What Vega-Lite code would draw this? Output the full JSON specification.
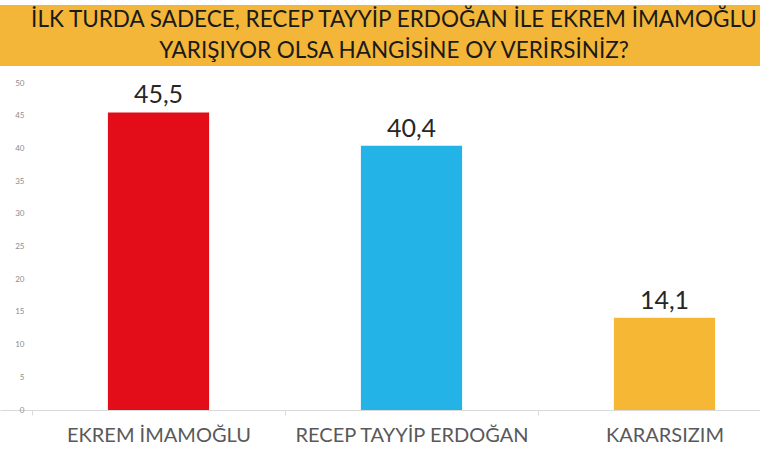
{
  "$schema": "https://vega.github.io/schema/vega-lite/v6.json",
  "padding": {"left": 0, "top": 5, "right": 0, "bottom": 0},
  "background": "white",
  "spacing": 13,
  "config": {
    "view": {"stroke": null},
    "locale": {"number": {"decimal": ",", "thousands": ".", "grouping": [3], "currency": ["", " TL"]}}
  },
  "vconcat": [
    {
      "width": 760,
      "height": 61,
      "view": {"fill": "#F3B639", "stroke": null},
      "data": {"values": [
        {"line": 1, "text": "İLK TURDA SADECE, RECEP TAYYİP ERDOĞAN İLE EKREM İMAMOĞLU"},
        {"line": 2, "text": "YARIŞIYOR OLSA HANGİSİNE OY VERİRSİNİZ?"}
      ]},
      "mark": {"type": "text", "font": "Lato", "fontSize": 22.5, "color": "#1a1a1a", "align": "center", "baseline": "middle", "dx": 14, "limit": 0},
      "encoding": {
        "x": {"datum": "c", "type": "nominal", "axis": null},
        "y": {"field": "line", "type": "ordinal", "axis": null},
        "text": {"field": "text"}
      }
    },
    {
      "width": 823,
      "height": 327,
      "data": {"values": [
        {"aday": "EKREM İMAMOĞLU", "oran": 45.5},
        {"aday": "RECEP TAYYİP ERDOĞAN", "oran": 40.4},
        {"aday": "KARARSIZIM", "oran": 14.1}
      ]},
      "encoding": {
        "x": {
          "field": "aday", "type": "nominal", "sort": null,
          "scale": {"paddingInner": 0, "paddingOuter": 0.1265},
          "axis": {
            "title": null, "labelAngle": 0, "domainColor": "#d9d9d9", "tickColor": "#d9d9d9",
            "tickBand": "extent", "tickSize": 5, "labelPadding": 10, "labelLimit": 0,
            "labelFont": "Lato", "labelFontSize": 20, "labelColor": "#595959"
          }
        },
        "y": {
          "field": "oran", "type": "quantitative",
          "scale": {"domain": [0, 50], "nice": false},
          "axis": {
            "title": null, "values": [0, 5, 10, 15, 20, 25, 30, 35, 40, 45, 50],
            "domain": false, "ticks": false, "grid": false, "offset": -32, "labelPadding": 8,
            "labelFontSize": 8, "labelColor": "#8c8c8c", "labelFont": "Lato"
          }
        }
      },
      "layer": [
        {
          "mark": {"type": "bar", "width": {"band": 0.4}},
          "encoding": {
            "color": {
              "field": "aday", "type": "nominal", "legend": null,
              "scale": {"domain": ["EKREM İMAMOĞLU", "RECEP TAYYİP ERDOĞAN", "KARARSIZIM"], "range": ["#E30D1A", "#23B3E7", "#F5B734"]}
            }
          }
        },
        {
          "mark": {"type": "text", "baseline": "bottom", "dy": -4, "fontSize": 25, "color": "#262626", "font": "Lato"},
          "encoding": {"text": {"field": "oran", "type": "quantitative", "format": ".1f"}}
        }
      ]
    }
  ]
}
